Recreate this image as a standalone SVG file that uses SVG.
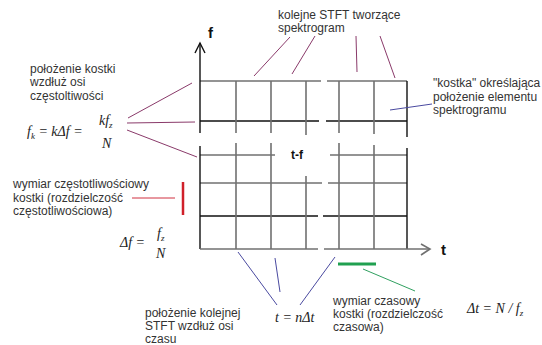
<svg xmlns="http://www.w3.org/2000/svg" width="542" height="345" viewBox="0 0 542 345">
<style>
.t{font-family:"Liberation Sans",Arial,sans-serif;font-size:12px;fill:#333}
.m{font-family:"Liberation Serif","Times New Roman",serif;font-size:14px;font-style:italic;fill:#222}
.mu{font-family:"Liberation Serif","Times New Roman",serif;font-size:14px;fill:#222}
.b{font-family:"Liberation Sans",Arial,sans-serif;font-weight:bold;fill:#111}
.g{stroke:#707070;stroke-width:1.6;fill:none}
.k{stroke:#111;stroke-width:1.4;fill:none}
.p{stroke:#8a3a6a;stroke-width:1;fill:none}
.bl{stroke:#4a4aa0;stroke-width:1;fill:none}
</style>
<rect width="542" height="345" fill="#fff"/>
<g id="grid">
<line class="g" x1="200" y1="81" x2="321" y2="81"/><line class="g" x1="327" y1="81" x2="407" y2="81"/>
<line class="k" x1="200" y1="121" x2="319" y2="121"/><line class="k" x1="326" y1="121" x2="407" y2="121"/>
<line class="g" x1="200" y1="155" x2="275" y2="155"/><line class="g" x1="330" y1="155" x2="407" y2="155"/>
<line class="g" x1="200" y1="183" x2="322" y2="183"/><line class="g" x1="328" y1="183" x2="407" y2="183"/>
<line class="k" x1="200" y1="216" x2="318" y2="216"/><line class="k" x1="323" y1="216" x2="407" y2="216"/>
<line class="g" x1="236" y1="81" x2="236" y2="133"/><line class="g" x1="236" y1="143" x2="236" y2="249"/>
<line class="g" x1="271" y1="81" x2="271" y2="133"/><line class="g" x1="271" y1="143" x2="271" y2="249"/>
<line class="g" x1="306" y1="81" x2="306" y2="135"/><line class="g" x1="306" y1="176" x2="306" y2="249"/>
<line class="g" x1="339" y1="81" x2="339" y2="133"/><line class="g" x1="339" y1="143" x2="339" y2="249"/>
<line class="g" x1="374" y1="81" x2="374" y2="134"/><line class="g" x1="374" y1="145" x2="374" y2="249"/>
<line class="k" x1="407" y1="81" x2="407" y2="137"/><line class="k" x1="407" y1="148" x2="407" y2="249"/>
</g>
<g id="axes">
<line class="k" x1="200" y1="43" x2="200" y2="133"/><line class="k" x1="200" y1="146" x2="200" y2="249"/>
<polyline class="k" points="195,53 200,43 205,53"/>
<line class="g" x1="200" y1="249" x2="318" y2="249"/><line class="g" x1="324" y1="249" x2="430" y2="249"/>
<polyline class="g" points="421,244 430,249 421,255"/>
<text class="b" x="208" y="38" font-size="15">f</text>
<text class="b" x="441" y="255" font-size="15">t</text>
<text class="b" x="291" y="159" font-size="12">t-f</text>
</g>
<g id="connectors">
<line class="p" x1="290" y1="37" x2="254" y2="76"/>
<line class="p" x1="315" y1="36" x2="292" y2="74"/>
<line class="p" x1="356" y1="36" x2="357" y2="72"/>
<line class="p" x1="380" y1="36" x2="395" y2="78"/>
<line class="p" x1="128" y1="118" x2="192" y2="83"/>
<line class="p" x1="127" y1="123" x2="195" y2="122"/>
<line class="p" x1="127" y1="130" x2="197" y2="157"/>
<line stroke="#d0202a" stroke-width="2.5" x1="183" y1="182" x2="183" y2="215"/>
<line stroke="#d03040" stroke-width="1" x1="132" y1="198" x2="175" y2="198"/>
<line class="bl" x1="238" y1="252" x2="277" y2="305"/>
<line class="bl" x1="275" y1="258" x2="280" y2="292"/>
<line class="bl" x1="335" y1="257" x2="300" y2="305"/>
<line stroke="#20a050" stroke-width="3" x1="338" y1="264" x2="376" y2="264"/>
<line stroke="#30a060" stroke-width="1" x1="363" y1="269" x2="415" y2="291"/>
<line class="bl" x1="390" y1="110" x2="432" y2="104"/>
</g>
<g id="label-stft">
<text class="t" x="278" y="19">kolejne STFT tworzące</text>
<text class="t" x="278" y="32">spektrogram</text>
</g>
<g id="label-freq-pos">
<text class="t" x="30" y="73">położenie kostki</text>
<text class="t" x="30" y="86">wzdłuż osi</text>
<text class="t" x="30" y="100">częstoltiwości</text>
<text class="m" x="27" y="136">f<tspan font-size="9" dy="3">k</tspan><tspan class="mu" dy="-3"> = </tspan>k<tspan class="mu">Δ</tspan>f<tspan class="mu"> = </tspan></text>
<text class="m" x="99" y="125">kf<tspan font-size="9" dy="3">z</tspan></text>
<text class="m" x="102" y="148">N</text>
</g>
<g id="label-freq-dim">
<text class="t" x="13" y="188">wymiar częstotliwościowy</text>
<text class="t" x="13" y="202">kostki (rozdzielczość</text>
<text class="t" x="13" y="215">częstotliwościowa)</text>
<text class="m" x="120" y="247"><tspan class="mu">Δ</tspan>f<tspan class="mu"> = </tspan></text>
<text class="m" x="157" y="238">f<tspan font-size="9" dy="3">z</tspan></text>
<text class="m" x="156" y="258">N</text>
</g>
<g id="label-kostka">
<text class="t" x="433" y="87">"kostka" określająca</text>
<text class="t" x="433" y="101">położenie elementu</text>
<text class="t" x="433" y="114">spektrogramu</text>
</g>
<g id="label-time-pos">
<text class="t" x="145" y="317">położenie kolejnej</text>
<text class="t" x="145" y="330">STFT wzdłuż osi</text>
<text class="t" x="145" y="343">czasu</text>
<text class="m" x="275" y="322">t<tspan class="mu"> = </tspan>n<tspan class="mu">Δ</tspan>t</text>
</g>
<g id="label-time-dim">
<text class="t" x="333" y="305">wymiar czasowy</text>
<text class="t" x="333" y="318">kostki (rozdzielczość</text>
<text class="t" x="333" y="331">czasowa)</text>
<text class="m" x="467" y="313"><tspan class="mu">Δ</tspan>t<tspan class="mu"> = </tspan>N<tspan class="mu"> / </tspan>f<tspan font-size="9" dy="3">z</tspan></text>
</g>
</svg>
